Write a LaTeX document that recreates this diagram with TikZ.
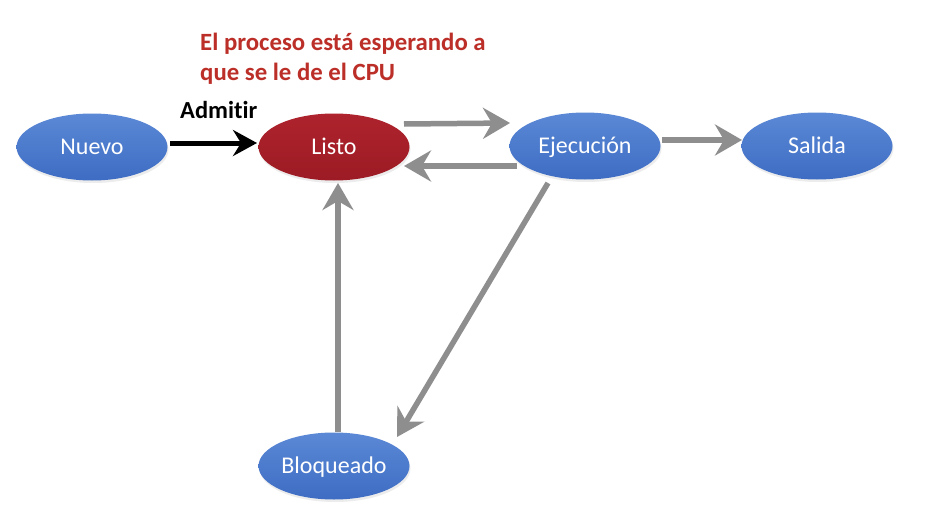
\documentclass[tikz,border=0pt]{standalone}
\usepackage{fontspec}
\setmainfont[Ligatures=NoCommon]{Carlito}
\usetikzlibrary{arrows.meta,shapes.geometric,shadows}
\definecolor{bluetop}{HTML}{5B89D6}
\definecolor{bluebot}{HTML}{3E6CC3}
\definecolor{redtop}{HTML}{AE232D}
\definecolor{redbot}{HTML}{9C1B24}
\definecolor{titlered}{HTML}{BC2F29}
\definecolor{arrowgray}{HTML}{8E8E8E}
\tikzset{
  state/.style={ellipse, minimum width=151pt, minimum height=67pt, inner sep=0pt,
    top color=bluetop, bottom color=bluebot, draw=none, text=white,
    font=\fontsize{24}{28}\selectfont, text height=15.5pt, text depth=0pt,
    drop shadow={opacity=0.15, shadow xshift=1pt, shadow yshift=-2.5pt}},
  readystate/.style={state, top color=redtop, bottom color=redbot},
  garrow/.style={draw=arrowgray, line width=5.5pt,
    -{Stealth[length=27pt, width=31pt, inset=9pt]}},
  barrow/.style={draw=black, line width=5pt,
    -{Stealth[length=24pt, width=26pt, inset=8pt]}},
  titletext/.style={anchor=base west, inner sep=0pt, text=titlered,
    font=\bfseries\fontsize{24.8}{30}\selectfont},
  lbl/.style={anchor=base west, inner sep=0pt, text=black,
    font=\bfseries\fontsize{24.5}{28}\selectfont}
}
\begin{document}
\begin{tikzpicture}[x=1pt, y=-1pt]
\useasboundingbox[fill=white] (0,0) rectangle (946,530);
\node[state] (N) at (92,147) {Nuevo};
\node[readystate] (L) at (334,147) {Listo};
\node[state] (E) at (585,146) {Ejecución};
\node[state] (S) at (817,146) {Salida};
\node[state] (B) at (334,466) {Bloqueado};
\node[titletext] (t1) at (200,50) {El proceso está esperando a};
\node[titletext] (t2) at (200,80) {que se le de el CPU};
\node[lbl] (adm) at (180,118) {Admitir};
\draw[barrow] ([shift={(78,-4)}]N.center) -- ([shift={(-77,-4)}]L.center);
\draw[garrow] ([shift={(70,-23)}]L.center) -- ([shift={(-75,-23)}]E.center);
\draw[garrow] ([shift={(-68,20)}]E.center) -- ([shift={(70,19)}]L.center);
\draw[garrow] ([shift={(77,-6)}]E.center) -- ([shift={(-75,-6)}]S.center);
\draw[garrow] ([shift={(-37,37)}]E.center) -- ([shift={(63,-29)}]B.center);
\draw[garrow] ([shift={(4,-34)}]B.center) -- ([shift={(4,36)}]L.center);
\end{tikzpicture}
\end{document}
